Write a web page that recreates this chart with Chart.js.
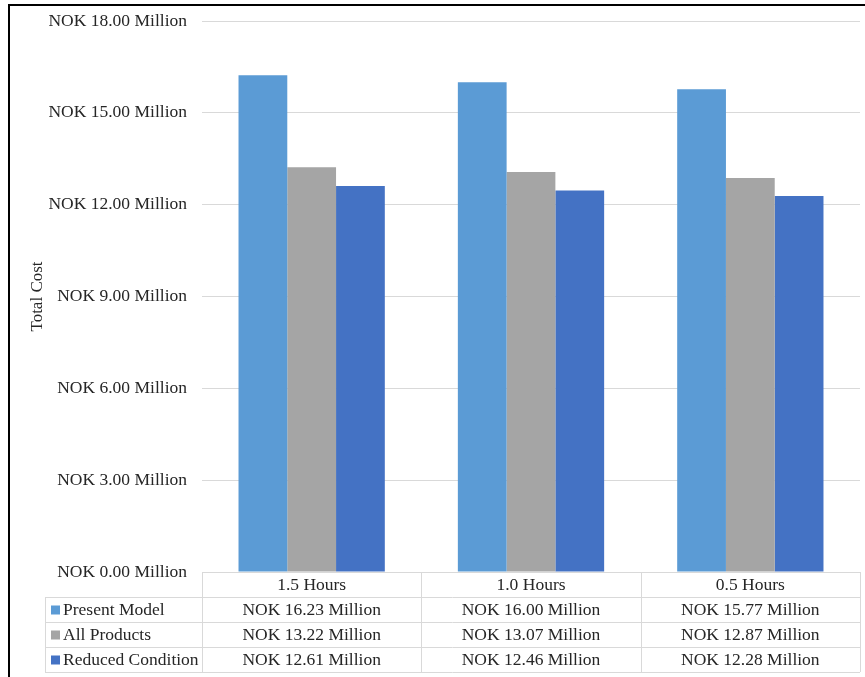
<!DOCTYPE html>
<html>
<head>
<meta charset="utf-8">
<script src="https://cdn.jsdelivr.net/npm/chart.js@4.4.1/dist/chart.umd.min.js"></script>
<style>
  html, body { margin: 0; padding: 0; background: #fff; }
  #wrap { width: 865px; height: 677px; position: relative; }
</style>
</head>
<body>
<div id="wrap"><canvas id="costChart" width="865" height="677"></canvas></div>
<script>
// Categories and series (total cost, NOK million)
const categories = ['1.5 Hours', '1.0 Hours', '0.5 Hours'];
const presentModel = [16.23, 16.00, 15.77];
const allProducts = [13.22, 13.07, 12.87];
const reducedCondition = [12.61, 12.46, 12.28];
const seriesNames = ['Present Model', 'All Products', 'Reduced Condition'];
const seriesColors = ['#5B9BD5', '#A5A5A5', '#4472C4'];

const FONT = "'Liberation Serif', 'Times New Roman', serif";
const TEXT = '#262626';
const GRID = '#D9D9D9';

const fmt = v => 'NOK ' + v.toFixed(2) + ' Million';

// Frame around the whole figure
const framePlugin = {
  id: 'frame',
  afterDraw(chart) {
    const ctx = chart.ctx;
    ctx.save();
    ctx.fillStyle = '#000';
    ctx.fillRect(8, 4, chart.width - 8, 2);
    ctx.fillRect(8, 4, 2, chart.height - 4);
    ctx.restore();
  }
};

// Data table drawn under the plot area, aligned to the category columns
const dataTablePlugin = {
  id: 'dataTable',
  afterDraw(chart) {
    const ctx = chart.ctx;
    const area = chart.chartArea;
    const xs = chart.scales.x;
    const rowH = 25;
    const labelLeft = 45;
    const top = area.bottom;
    const colW = area.width / categories.length;
    const datasets = chart.data.datasets;
    const bottom = top + rowH * (datasets.length + 1);

    ctx.save();
    ctx.strokeStyle = GRID;
    ctx.lineWidth = 1;
    ctx.beginPath();
    // horizontal lines
    ctx.moveTo(area.left, top + 0.5); ctx.lineTo(area.right, top + 0.5);
    for (let r = 1; r <= datasets.length + 1; r++) {
      const y = Math.round(top + r * rowH) + 0.5;
      ctx.moveTo(labelLeft, y); ctx.lineTo(area.right, y);
    }
    // vertical lines
    for (let c = 0; c <= categories.length; c++) {
      const x = Math.round(area.left + c * colW) + 0.5;
      ctx.moveTo(x, top); ctx.lineTo(x, bottom);
    }
    ctx.moveTo(labelLeft + 0.5, top + rowH); ctx.lineTo(labelLeft + 0.5, bottom);
    ctx.stroke();

    ctx.font = '17.5px ' + FONT;
    ctx.fillStyle = TEXT;
    ctx.textBaseline = 'middle';
    ctx.textAlign = 'center';
    categories.forEach((cat, i) => {
      ctx.fillText(cat, xs.getPixelForValue(i), top + rowH / 2 + 1);
    });
    datasets.forEach((ds, r) => {
      const y = top + (r + 1) * rowH + rowH / 2 + 1;
      ctx.fillStyle = ds.backgroundColor;
      ctx.fillRect(labelLeft + 6, y - 5, 9, 9);
      ctx.fillStyle = TEXT;
      ctx.textAlign = 'left';
      ctx.fillText(ds.label, labelLeft + 18, y);
      ctx.textAlign = 'center';
      ds.data.forEach((v, i) => {
        ctx.fillText(fmt(v), xs.getPixelForValue(i), y);
      });
    });
    ctx.restore();
  }
};

new Chart(document.getElementById('costChart'), {
  type: 'bar',
  data: {
    labels: categories,
    datasets: [presentModel, allProducts, reducedCondition].map((data, i) => ({
      label: seriesNames[i],
      data,
      backgroundColor: seriesColors[i],
      borderWidth: 0
    }))
  },
  options: {
    responsive: false,
    animation: false,
    devicePixelRatio: 1,
    layout: { padding: { left: 0, right: 5, top: 21, bottom: 105 } },
    datasets: { bar: { categoryPercentage: 0.667, barPercentage: 1 } },
    plugins: {
      legend: { display: false },
      tooltip: { enabled: false }
    },
    scales: {
      x: { display: false },
      y: {
        min: 0,
        max: 18,
        afterFit(scale) {
          scale.width = 202;
          scale.paddingTop = 0;
          scale.paddingBottom = 0;
        },
        border: { display: false },
        grid: { color: GRID, lineWidth: 1, drawTicks: false },
        ticks: {
          stepSize: 3,
          padding: 15,
          color: TEXT,
          font: { family: FONT, size: 17.5 },
          callback: v => fmt(v)
        },
        title: {
          display: true,
          text: 'Total Cost',
          color: TEXT,
          font: { family: FONT, size: 17 },
          padding: { top: 27, bottom: 0 }
        }
      }
    }
  },
  plugins: [dataTablePlugin, framePlugin]
});
</script>
</body>
</html>
